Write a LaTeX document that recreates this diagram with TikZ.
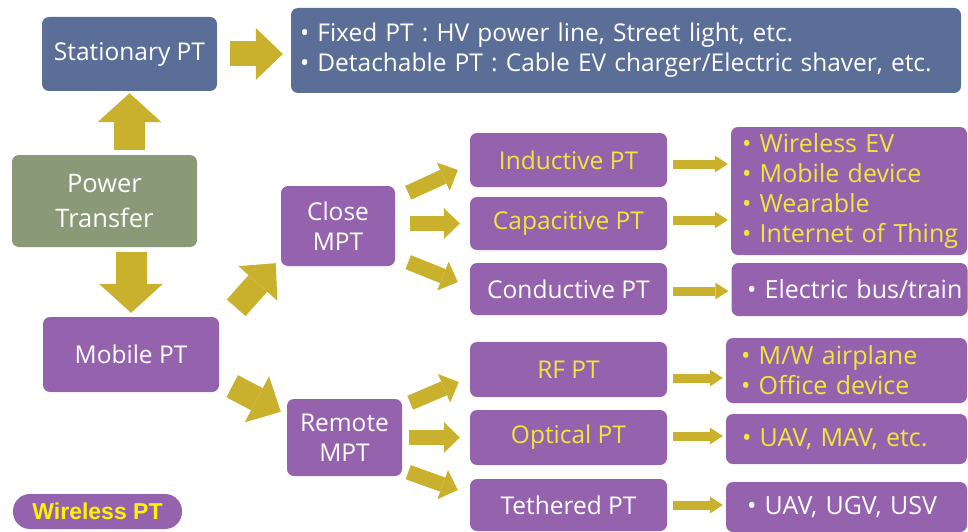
\documentclass[tikz,border=0pt]{standalone}
\usepackage{fontspec}
\setmainfont{Open Sans}
\newfontfamily\tagfont{Liberation Sans}
\usepackage{xcolor}
\usetikzlibrary{arrows.meta,calc}
\definecolor{slate}{HTML}{5A6E97}
\definecolor{plum}{HTML}{9563AE}
\definecolor{sage}{HTML}{8A9A78}
\definecolor{gold}{HTML}{C9B12E}
\definecolor{lemon}{HTML}{F3E53B}
\definecolor{yolk}{HTML}{FFF200}
\newcommand{\dotline}[1]{\mbox{• #1}}

\begin{document}
\begin{tikzpicture}[x=1pt,y=-1pt,
  box/.style={rectangle,rounded corners=7pt,inner sep=0pt,align=center,text=white,
    font=\fontsize{24.5}{30}\selectfont},
  slatebox/.style={box,fill=slate},
  plumbox/.style={box,fill=plum},
  listbox/.style={plumbox,align=left,text width=#1,font=\fontsize{25}{30}\selectfont},
  hot/.style={text=lemon},
  blk/.style n args={3}{draw=gold,line width=#1,-{Triangle[width=#2,length=#3,line width=0pt]}},
  bigarrow/.style={blk={31pt}{64pt}{29pt}},
  midarrow/.style={blk={25pt}{52pt}{27pt}},
  fanarrow/.style={blk={15pt}{31pt}{16pt}},
  smallarrow/.style={blk={9pt}{17pt}{13pt}}]
\useasboundingbox (0,0) rectangle (968,532);
% root and stationary branch
\node[box,fill=sage,minimum width=185pt,minimum height=92pt,font=\fontsize{25.5}{35}\selectfont]
  (pt) at (104.5,201) {Power\\Transfer};
\node[slatebox,minimum width=175pt,minimum height=74pt] (stat) at (129.5,54) {Stationary PT};
\node[slatebox,minimum width=670pt,minimum height=85pt,text width=652pt,align=left]
  (fixed) at (626,50.5) {\dotline{Fixed PT : HV power line, Street light, etc.}\\
  \dotline{Detachable PT : Cable EV charger/Electric shaver, etc.}};
% mobile branch
\node[plumbox,minimum width=176pt,minimum height=75pt] (mob) at (131,354.5) {Mobile PT};
\node[plumbox,minimum width=114pt,minimum height=80pt] (close) at (338,226) {Close\\MPT};
\node[plumbox,minimum width=115pt,minimum height=77pt] (remote) at (344.5,437.5) {Remote\\MPT};
% transfer types
\node[plumbox,hot,minimum width=197pt,minimum height=54pt] (ind) at (568.5,160) {Inductive PT};
\node[plumbox,hot,minimum width=197pt,minimum height=53pt] (cap) at (568.5,223.5) {Capacitive PT};
\node[plumbox,minimum width=197pt,minimum height=52pt] (cond) at (568.5,289) {Conductive PT};
\node[plumbox,hot,minimum width=197pt,minimum height=55pt] (rf) at (568.5,369.5) {RF PT};
\node[plumbox,hot,minimum width=197pt,minimum height=55pt] (opt) at (568.5,437.5) {Optical PT};
\node[plumbox,minimum width=197pt,minimum height=52pt] (teth) at (568.5,505) {Tethered PT};
% applications
\node[listbox=214pt,hot,minimum width=236pt,minimum height=128pt] (uses1) at (849,191)
  {\dotline{Wireless EV}\\\dotline{Mobile device}\\\dotline{Wearable}\\\dotline{Internet of Thing}};
\node[listbox=205pt,minimum width=236pt,minimum height=53pt] (uses2) at (849.5,289.5)
  {\dotline{Electric bus/train}};
\node[listbox=211pt,hot,minimum width=241pt,minimum height=65pt] (uses3) at (846.5,370.5)
  {\dotline{M/W airplane}\\\dotline{Office device}};
\node[listbox=209pt,hot,minimum width=241pt,minimum height=50pt] (uses4) at (846.5,439)
  {\dotline{UAV, MAV, etc.}};
\node[listbox=199pt,minimum width=241pt,minimum height=50pt] (uses5) at (846.5,507)
  {\dotline{UAV, UGV, USV}};
\node[plumbox,rounded corners=17pt,minimum width=169pt,minimum height=35pt,text=yolk,
  font=\tagfont\bfseries\fontsize{23}{26}\selectfont] (wpt) at (97.5,511.5) {Wireless PT};
% big arrows
\draw[bigarrow,shorten <=5pt,shorten >=2pt] (stat.south |- pt.north) -- (stat.south);
\draw[midarrow,shorten <=13pt,shorten >=8pt] (stat.east) -- (stat.east -| fixed.west);
\draw[bigarrow,shorten <=5pt,shorten >=4pt] (mob.north |- pt.south) -- (mob.north);
\draw[midarrow] ([shift={(17,-9)}]mob.north east) -- ([shift={(-5,-3)}]close.south west);
\draw[midarrow] ([shift={(13,-6)}]mob.south east) -- ([shift={(-6,13)}]remote.north west);
% fan out to transfer types
\draw[fanarrow] ([shift={(13,7)}]close.north east) -- ([shift={(-12,10)}]ind.west);
\draw[fanarrow,shorten <=15pt,shorten >=10pt] (cap.west -| close.east) -- (cap.west);
\draw[fanarrow] ([shift={(13,-4)}]close.south east) -- ([shift={(-12,-7)}]cond.west);
\draw[fanarrow] ([shift={(8,4)}]remote.north east) -- ([shift={(-11,12.5)}]rf.west);
\draw[fanarrow,shorten <=7pt,shorten >=10pt] (remote.east) -- (remote.east -| opt.west);
\draw[fanarrow] ([shift={(6,-4)}]remote.south east) -- ([shift={(-12,-15)}]teth.west);
% types to applications
\foreach \a/\b/\dy in {ind/uses1/4, cap/uses1/-3.5, cond/uses2/2, rf/uses3/8.5, opt/uses4/-1.5, teth/uses5/0}
  \draw[smallarrow,shorten <=6pt,shorten >=3pt] ($(\a.east)+(0,\dy)$) -- ($(\a.east -| \b.west)+(0,\dy)$);
\end{tikzpicture}
\end{document}
